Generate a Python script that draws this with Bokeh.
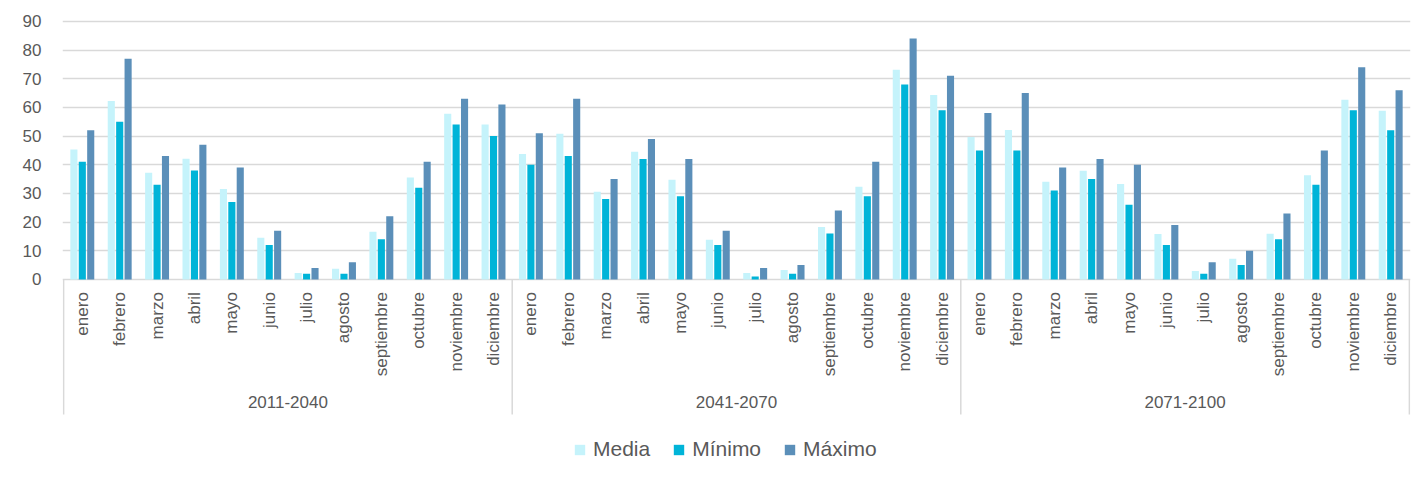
import numpy as np
from bokeh.plotting import figure
from bokeh.models import Range1d, FixedTicker, Legend, LegendItem, ColumnDataSource
from bokeh.transform import dodge
from bokeh.core.properties import value
from bokeh.embed import file_html
from bokeh.resources import INLINE

periods = ["2011-2040", "2041-2070", "2071-2100"]
months = ["enero", "febrero", "marzo", "abril", "mayo", "junio", "julio",
          "agosto", "septiembre", "octubre", "noviembre", "diciembre"]
media = [45.3, 62.2, 37.2, 42.1, 31.5, 14.5, 2.2, 3.7, 16.6, 35.5, 57.8, 54.0,
         43.7, 50.8, 30.6, 44.5, 34.8, 13.8, 2.2, 3.3, 18.3, 32.3, 73.1, 64.3,
         49.7, 52.1, 34.1, 37.9, 33.3, 15.8, 2.9, 7.2, 15.9, 36.3, 62.7, 58.8]
minimo = [41, 55, 33, 38, 27, 12, 2, 2, 14, 32, 54, 50,
          40, 43, 28, 42, 29, 12, 1, 2, 16, 29, 68, 59,
          45, 45, 31, 35, 26, 12, 2, 5, 14, 33, 59, 52]
maximo = [52, 77, 43, 47, 39, 17, 4, 6, 22, 41, 63, 61,
          51, 63, 35, 49, 42, 17, 4, 5, 24, 41, 84, 71,
          58, 65, 39, 42, 40, 19, 6, 10, 23, 45, 74, 66]
series_names = ["Media", "Mínimo", "Máximo"]
y_ticks = list(range(0, 100, 10))

n_m = len(months)
n_total = n_m * len(periods)
xs = [pi * n_m + mi + 0.5 for pi in range(len(periods)) for mi in range(n_m)]
src = ColumnDataSource(dict(x=xs, media=media, minimo=minimo, maximo=maximo,
                            month=months * len(periods)))

GREY = "#d9d9d9"
TXT = "#595959"
FONT = "Liberation Sans"

p = figure(width=1418, height=479, output_backend="svg", toolbar_location=None,
           x_range=Range1d(-0.03, n_total + 0.03), y_range=Range1d(-68.4, 91),
           x_axis_location=None, min_border_left=62, min_border_right=8,
           min_border_top=18, min_border_bottom=4)
p.outline_line_color = None
p.xgrid.visible = False
p.ygrid.ticker = FixedTicker(ticks=y_ticks)
p.ygrid.grid_line_color = GREY
p.ygrid.grid_line_width = 1.3
p.yaxis.ticker = FixedTicker(ticks=y_ticks)
p.yaxis.axis_line_color = None
p.yaxis.major_tick_line_color = None
p.yaxis.minor_tick_line_color = None
p.yaxis.major_tick_out = 0
p.yaxis.major_tick_in = 0
p.yaxis.major_label_standoff = 21
p.yaxis.major_label_text_font_size = "17px"
p.yaxis.major_label_text_color = TXT
p.yaxis.major_label_text_font = FONT

colors = ["#c5f3fb", "#00b4d8", "#5b8fb9"]
cols = ["media", "minimo", "maximo"]
offsets = [-0.225, 0.0, 0.225]
renderers = []
for c, col, off in zip(colors, cols, offsets):
    r = p.vbar(x=dodge("x", off, range=p.x_range), top=col, width=0.19,
               bottom=0, source=src, fill_color=c, line_color=None)
    renderers.append(r)

# month labels
p.text(x="x", y=-4.45, text="month", source=src, angle=np.pi / 2,
       text_align="right", text_baseline="middle", text_font_size="17px",
       text_color=TXT, text_font=value(FONT))

# period labels
p.text(x=[i * n_m + n_m / 2 for i in range(len(periods))], y=-42.9, text=periods,
       text_align="center", text_baseline="middle", text_font_size="17px",
       text_color=TXT, text_font=value(FONT))

# group separators
seps = [i * n_m for i in range(len(periods) + 1)]
p.segment(x0=seps, y0=0, x1=seps, y1=-47.1, line_color=GREY, line_width=1.5)

legend = Legend(items=[LegendItem(label=n, renderers=[r]) for n, r in zip(series_names, renderers)],
                orientation="horizontal", location=(511, 14),
                glyph_width=13, glyph_height=13, label_text_font_size="21px",
                label_text_color=TXT, label_text_font=FONT, label_standoff=7,
                spacing=22, padding=0, margin=0, border_line_color=None,
                background_fill_alpha=0)
p.add_layout(legend)

open("out.html", "w").write(file_html(p, INLINE))
